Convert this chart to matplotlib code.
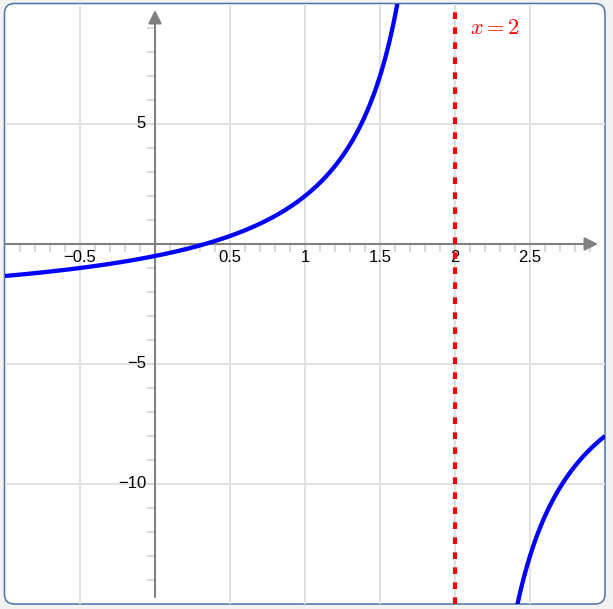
import numpy as np
import matplotlib
matplotlib.use("Agg")
import matplotlib.pyplot as plt
from matplotlib.patches import FancyBboxPatch

plt.rcParams['font.family'] = ['Liberation Sans', 'DejaVu Sans']
plt.rcParams['mathtext.fontset'] = 'cm'

# f(x) = (3x - 1) / (2 - x)
num_coef = [3, -1]
den_coef = [-1, 2]
asymptote_x = 2
asymptote_label = '$x = 2$'

x_range = [-1, 3]
y_range = [-15, 10]
x_grid = [-0.5, 0.5, 1, 1.5, 2, 2.5]
x_labels = ['\u22120.5', '0.5', '1', '1.5', '2', '2.5']
y_grid = [5, -5, -10]
y_labels = ['5', '\u22125', '\u221210']

W, H = 613, 609
fig = plt.figure(figsize=(W / 100, H / 100), dpi=100)
fig.patch.set_facecolor('#f2f2f2')

# rounded frame
frame = FancyBboxPatch((4.5 / W, 5 / H), 600.5 / W, 600.5 / H,
                       boxstyle='round,pad=0,rounding_size=0.016',
                       transform=fig.transFigure, facecolor='white',
                       edgecolor='#4a74a8', linewidth=1.1, zorder=0)
fig.patches.append(frame)

ax = fig.add_axes([5 / W, 5 / H, 600 / W, 600 / H])
ax.set_zorder(2)
ax.set_facecolor('none')
ax.set_xlim(x_range)
ax.set_ylim(y_range)
ax.axis('off')

px_x = (x_range[1] - x_range[0]) / 600.0   # data units per pixel
px_y = (y_range[1] - y_range[0]) / 600.0

grid_c = '#e1e1e1'
for gx in x_grid:
    ax.axvline(gx, color=grid_c, lw=1.45, zorder=1)
for gy in y_grid:
    ax.axhline(gy, color=grid_c, lw=1.45, zorder=1)

# minor ticks
tick_c = '#dadada'
xt = np.arange(-9, 30) / 10.0
xt = xt[np.abs(xt) > 1e-9]
ax.vlines(xt, -8 * px_y, 0, color=tick_c, lw=1.45, zorder=2)
yt = np.arange(-14, 10)
yt = yt[yt != 0]
ax.hlines(yt, -8 * px_x, 0, color=tick_c, lw=1.45, zorder=2)

# axes with arrows
axis_c = '#808080'
ax.annotate('', xy=(x_range[0] + 593 * px_x, 0), xytext=(x_range[0], 0),
            arrowprops=dict(arrowstyle='-|>', color=axis_c, lw=1.5,
                            mutation_scale=20, shrinkA=0, shrinkB=0), zorder=3)
ax.annotate('', xy=(0, y_range[1] - 6 * px_y), xytext=(0, y_range[0] + 7 * px_y),
            arrowprops=dict(arrowstyle='-|>', color=axis_c, lw=1.5,
                            mutation_scale=20, shrinkA=0, shrinkB=0), zorder=3)

for gx, lab in zip(x_grid, x_labels):
    ax.text(gx, -6 * px_y, lab, ha='center', va='top', fontsize=12, color='black', zorder=4)
for gy, lab in zip(y_grid, y_labels):
    ax.text(-9 * px_x, gy, lab, ha='right', va='center', fontsize=12, color='black', zorder=4)

# function branches
for lo, hi in [(x_range[0], asymptote_x - 1e-4), (asymptote_x + 1e-4, x_range[1])]:
    xs = np.linspace(lo, hi, 2000)
    ys = np.polyval(num_coef, xs) / np.polyval(den_coef, xs)
    ys = np.where(np.abs(ys) > 100, np.nan, ys)
    ax.plot(xs, ys, color='#0000ff', lw=3.1, solid_capstyle='butt', zorder=5)

ax.axvline(asymptote_x, color='#ff0000', lw=3, linestyle=(0, (1.6, 2.0)), zorder=6)
ax.text(asymptote_x + 15 * px_x, y_range[1] - 25 * px_y, asymptote_label,
        color='#ff0000', fontsize=16, ha='left', va='center', zorder=6)

fig.savefig('out.png', dpi=100, facecolor=fig.get_facecolor())
